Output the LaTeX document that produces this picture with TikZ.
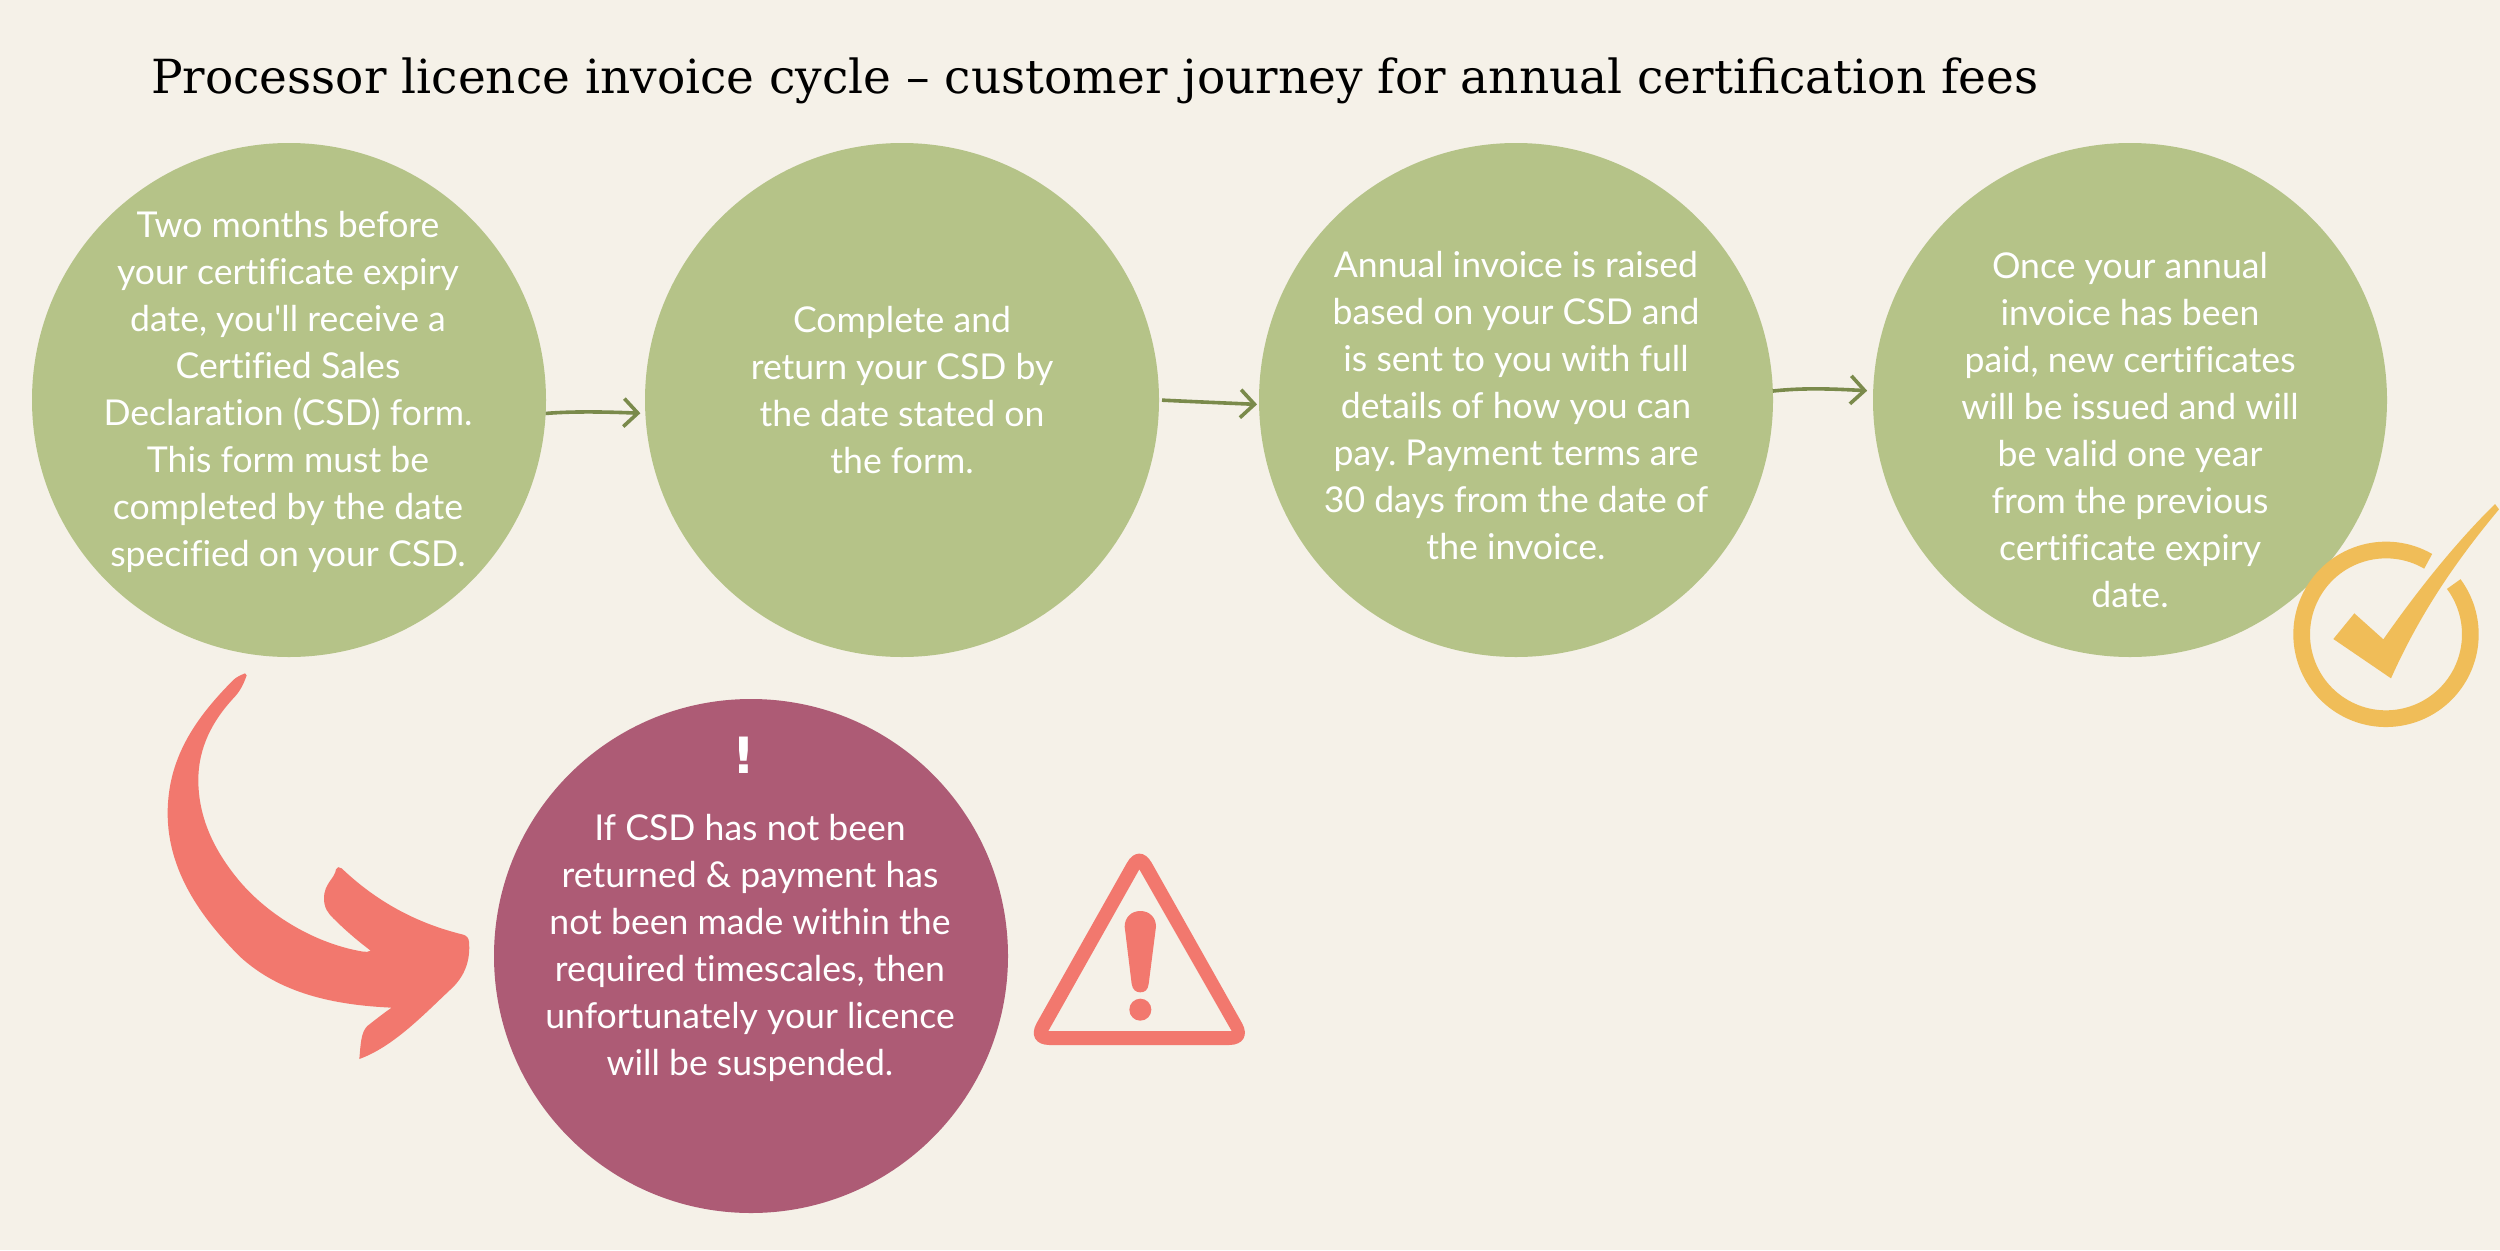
\documentclass[tikz,border=0pt]{standalone}
\usepackage{fontspec}
\usetikzlibrary{arrows.meta}
\newfontfamily\bodyfont{Lato}[Ligatures=NoCommon]
\newfontfamily\titlefont{DejaVu Serif}
\newfontfamily\bangfont{DejaVu Sans}
\definecolor{bgc}{HTML}{F5F1E8}
\definecolor{greenc}{HTML}{B5C388}
\definecolor{mauvec}{HTML}{AD5B75}
\definecolor{coralc}{HTML}{F2786E}
\definecolor{yellowc}{HTML}{F0BD58}
\definecolor{arrowc}{HTML}{7A8A4B}
\tikzset{
  disc/.style={circle,minimum size=514pt,inner sep=0pt,outer sep=0pt},
  bodytext/.style={text=white,align=center,inner sep=0pt,font=\bodyfont\frenchspacing\fontsize{35.6}{47}\selectfont},
  flowarrow/.style={draw=arrowc,line width=3.6pt,-{Straight Barb[length=14pt,width=28pt,line width=3.6pt]}},
}
\begin{document}
\begin{tikzpicture}[x=1pt,y=1pt,yscale=-1]
\useasboundingbox (0,0) rectangle (2500,1250);
\fill[bgc] (0,0) rectangle (2500,1250);
\node[anchor=west,inner sep=0pt,font=\titlefont\fontsize{47}{55}\selectfont] (title) at (151,80.5) {Processor licence invoice cycle – customer journey for annual certification fees};
\node[disc,fill=greenc] (c1) at (289,400) {};
\node[disc,fill=greenc] (c2) at (902,400) {};
\node[disc,fill=greenc] (c3) at (1516,400) {};
\node[disc,fill=greenc] (c4) at (2130,400) {};
\node[disc,fill=mauvec] (c5) at (751,956) {};
\node[bodytext] (t1) at (288,392) {Two months before\\your certificate expiry\\date, you'll receive a\\Certified Sales\\Declaration (CSD) form.\\This form must be\\completed by the date\\specified on your CSD.};
\node[bodytext] (t2) at (902,390) {Complete and\\return your CSD by\\the date stated on\\the form.};
\node[bodytext] (t3) at (1516,406) {Annual invoice is raised\\based on your CSD and\\is sent to you with full\\details of how you can\\pay. Payment terms are\\30 days from the date of\\the invoice.};
\node[bodytext] (t4) at (2130,430) {Once your annual\\invoice has been\\paid, new certificates\\will be issued and will\\be valid one year\\from the previous\\certificate expiry\\date.};
\node[bodytext,font=\bangfont\bfseries\fontsize{50}{50}\selectfont] (t5a) at (743.5,755) {!};
\node[bodytext] (t5) at (750,948) {If CSD has not been\\returned \& payment has\\not been made within the\\required timescales, then\\unfortunately your licence\\will be suspended.};
\draw[flowarrow,shorten >=5pt] (c1.-3) .. controls (575,411) and (610,412) .. (c2.183.8);
\draw[flowarrow,shorten <=3pt,shorten >=2pt] (c2.-0.5) .. controls (1190,401.5) and (1225,403) .. (c3.181.5);
\draw[flowarrow,shorten >=6pt] (c3.2.7) .. controls (1805,387.5) and (1835,389) .. (c4.178.4);
% curved arrow
\begin{scope}[shift={(130,640)},scale=1/3]
\fill[coralc] (345,100) .. controls (330,106) and (318,112) .. (310,120)
 .. controls (190,240) and (113,360) .. (113,520)
 .. controls (113,690) and (210,830) .. (330,950)
 .. controls (450,1060) and (610,1095) .. (785,1103)
 .. controls (760,1120) and (735,1140) .. (712,1158)
 .. controls (692,1178) and (692,1215) .. (688,1257)
 .. controls (790,1220) and (880,1125) .. (960,1050)
 .. controls (1005,1010) and (1022,960) .. (1017,905)
 .. controls (1016,893) and (1010,888) .. (1000,884)
 .. controls (860,850) and (740,785) .. (635,685)
 .. controls (628,680) and (620,680) .. (618,688)
 .. controls (615,715) and (582,730) .. (582,775)
 .. controls (582,805) and (595,820) .. (610,835)
 .. controls (645,870) and (680,900) .. (722,932)
 .. controls (716,936) and (708,936) .. (700,935)
 .. controls (560,912) and (420,830) .. (330,725)
 .. controls (250,630) and (205,530) .. (205,420)
 .. controls (205,320) and (250,240) .. (310,175)
 .. controls (330,155) and (342,130) .. (350,106) -- cycle;
\end{scope}
% warning sign
\begin{scope}[shift={(1010,830)},scale=1/3]
\fill[coralc,even odd rule] [rounded corners=25pt] (388,32.5) -- (733,645) -- (43,645) -- cycle
  [sharp corners] (388,118) -- (115,603) -- (665,603) -- cycle;
\fill[coralc] (344,290) .. controls (344,262) and (364,243) .. (391,243)
 .. controls (418,243) and (438,262) .. (438,290)
 -- (416,462) .. controls (414,480) and (404,487) .. (391,487)
 .. controls (378,487) and (368,480) .. (365,462) -- cycle;
\fill[coralc] (391,539) circle[radius=33];
\end{scope}
% check mark
\begin{scope}[shift={(2260,480)},scale=1/3]
\draw[yellowc,line width=16.7pt] (504.5,243.9) arc[start angle=-60,end angle=-396.6,radius=253];
\fill[yellowc] (220,477) -- (283,400) -- (370,478) .. controls (470,335) and (585,190) .. (705,72) -- (717,88) .. controls (590,240) and (480,400) .. (393,595) -- cycle;
\end{scope}
\end{tikzpicture}
\end{document}
